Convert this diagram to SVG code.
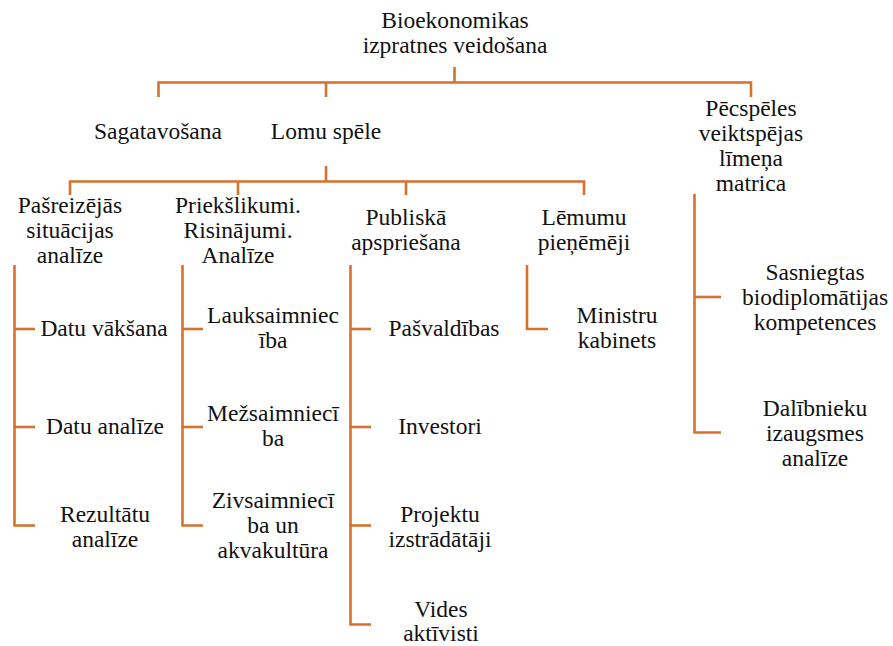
<svg xmlns="http://www.w3.org/2000/svg" width="893" height="646" viewBox="0 0 893 646">
  <style>
    .t { font-family: "Liberation Serif", "Times New Roman", Tinos, "Noto Serif", "DejaVu Serif", serif; font-size: 23.5px; fill: #111; text-anchor: middle; }
    .c { fill: none; stroke: #D4722E; stroke-width: 2.6; stroke-linecap: butt; stroke-linejoin: miter; }
  </style>
  <rect width="893" height="646" fill="#fff"/>

  <!-- connectors -->
  <g id="connectors" class="c">
    <!-- root to first level -->
    <path d="M454.5 67 V82.5"/>
    <path d="M158.5 97 V82.5 H751 V97"/>
    <path d="M326 82.5 V97"/>
    <!-- role play to its branches -->
    <path d="M326 166 V181.5"/>
    <path d="M70 195 V181.5 H584 V195"/>
    <path d="M238 181.5 V195"/>
    <path d="M406 181.5 V195"/>
    <!-- column 1 -->
    <path d="M14.5 265 V525.5 H35"/>
    <path d="M14.5 329 H35"/>
    <path d="M14.5 427 H35"/>
    <!-- column 2 -->
    <path d="M182.5 265 V525.5 H203"/>
    <path d="M182.5 329 H203"/>
    <path d="M182.5 427 H203"/>
    <!-- column 3 -->
    <path d="M350.5 265 V624.5 H371"/>
    <path d="M350.5 329 H371"/>
    <path d="M350.5 427 H371"/>
    <path d="M350.5 525.5 H371"/>
    <!-- column 4 -->
    <path d="M527 265 V329 H548"/>
    <!-- post-game column -->
    <path d="M694.5 194 V432.5 H721"/>
    <path d="M694.5 297 H721"/>
  </g>

  <g id="root"><text class="t" x="455" y="28">Bioekonomikas</text><text class="t" x="455" y="53">izpratnes veidošana</text></g>
  <g id="sagatavosana"><text class="t" x="158" y="139">Sagatavošana</text></g>
  <g id="lomu-spele"><text class="t" x="326" y="139">Lomu spēle</text></g>
  <g id="pecspeles"><text class="t" x="751" y="116">Pēcspēles</text><text class="t" x="751" y="141">veiktspējas</text><text class="t" x="751" y="166">līmeņa</text><text class="t" x="751" y="191">matrica</text></g>

  <g id="pasreizejas"><text class="t" x="70" y="213">Pašreizējās</text><text class="t" x="70" y="238">situācijas</text><text class="t" x="70" y="263">analīze</text></g>
  <g id="priekslikumi"><text class="t" x="238" y="213">Priekšlikumi.</text><text class="t" x="238" y="238">Risinājumi.</text><text class="t" x="238" y="263">Analīze</text></g>
  <g id="publiska"><text class="t" x="406" y="225">Publiskā</text><text class="t" x="406" y="250">apspriešana</text></g>
  <g id="lemumu"><text class="t" x="584" y="225">Lēmumu</text><text class="t" x="584" y="250">pieņēmēji</text></g>

  <g id="datu-vaksana"><text class="t" x="104" y="336">Datu vākšana</text></g>
  <g id="datu-analize"><text class="t" x="105" y="434">Datu analīze</text></g>
  <g id="rezultatu"><text class="t" x="105" y="522">Rezultātu</text><text class="t" x="105" y="547">analīze</text></g>

  <g id="lauksaimnieciba"><text class="t" x="273" y="323">Lauksaimniec</text><text class="t" x="273" y="348">ība</text></g>
  <g id="mezsaimnieciba"><text class="t" x="273" y="421">Mežsaimniecī</text><text class="t" x="273" y="446">ba</text></g>
  <g id="zivsaimnieciba"><text class="t" x="273" y="508">Zivsaimniecī</text><text class="t" x="273" y="533">ba un</text><text class="t" x="273" y="558">akvakultūra</text></g>

  <g id="pasvaldibas"><text class="t" x="444" y="336">Pašvaldības</text></g>
  <g id="investori"><text class="t" x="440" y="434">Investori</text></g>
  <g id="projektu"><text class="t" x="440" y="522">Projektu</text><text class="t" x="440" y="547">izstrādātāji</text></g>
  <g id="vides"><text class="t" x="441" y="617">Vides</text><text class="t" x="441" y="641">aktīvisti</text></g>

  <g id="ministru"><text class="t" x="617" y="323">Ministru</text><text class="t" x="617" y="348">kabinets</text></g>

  <g id="sasniegtas"><text class="t" x="815" y="280">Sasniegtas</text><text class="t" x="815" y="305">biodiplomātijas</text><text class="t" x="815" y="330">kompetences</text></g>
  <g id="dalibnieku"><text class="t" x="815" y="416">Dalībnieku</text><text class="t" x="815" y="441">izaugsmes</text><text class="t" x="815" y="466">analīze</text></g>
</svg>
